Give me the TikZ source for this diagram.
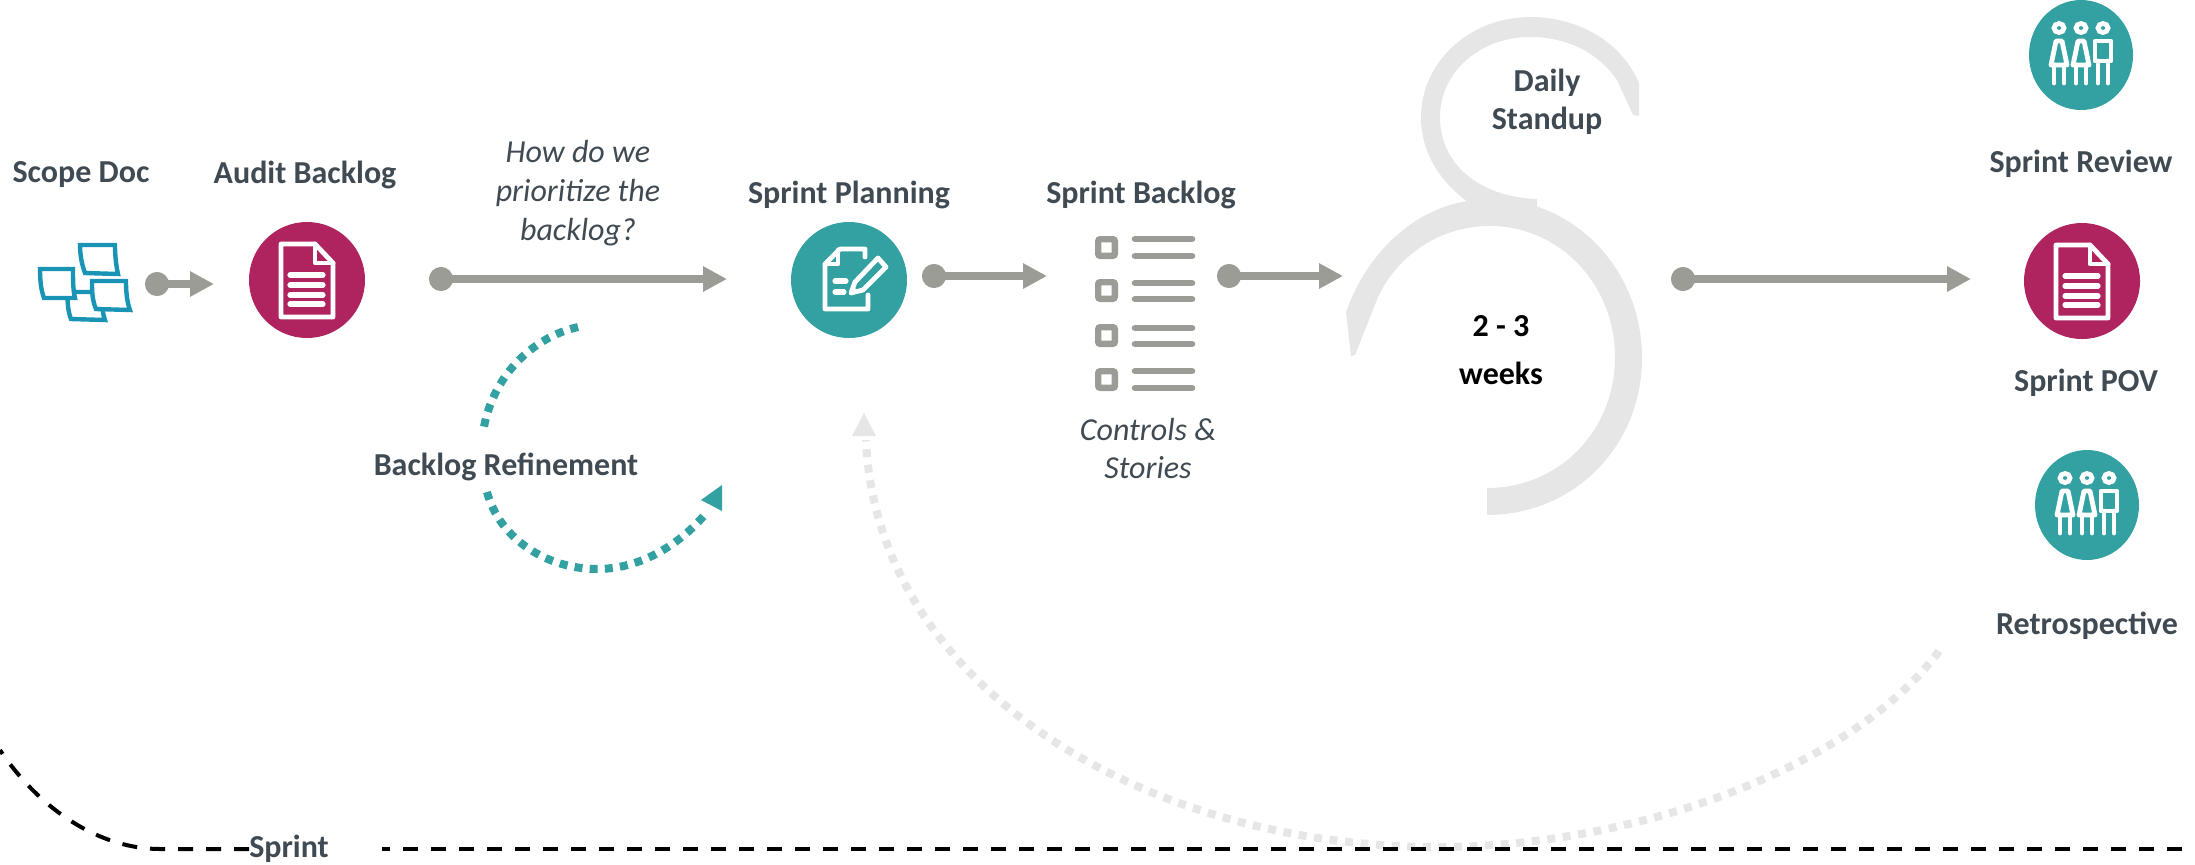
\documentclass[tikz,border=0pt]{standalone}
\usepackage{fontspec}
\setmainfont{Carlito}
\usetikzlibrary{arrows.meta,shapes.geometric}
\definecolor{teal1}{HTML}{33A1A1}
\definecolor{plum}{HTML}{AF245F}
\definecolor{flowgray}{HTML}{9C9C96}
\definecolor{pale}{HTML}{E6E6E6}
\definecolor{ink}{HTML}{3F4A52}
\definecolor{sticky}{HTML}{1A94B5}
\tikzset{
  lbl/.style={font=\fontsize{16}{17}\selectfont\bfseries,text=ink,inner sep=0pt,align=center},
  note/.style={font=\fontsize{16}{19}\selectfont\itshape,text=ink,inner sep=0pt,align=center},
  blk/.style={font=\fontsize{16}{17}\selectfont\bfseries,text=black,inner sep=0pt,align=center},
  flow/.style={draw=flowgray,line width=3.8pt,{Circle[length=12pt,width=12pt]}-{Triangle[length=12pt,width=12pt]}},
  tealdots/.style={draw=teal1,line width=4pt,dash pattern=on 4pt off 3.6pt},
  paledots/.style={draw=pale,line width=4pt,dash pattern=on 4pt off 3.8pt},
  blackdash/.style={draw=black,line width=2pt,dash pattern=on 7.5pt off 6.5pt},
  disc/.style={fill=#1,draw=none,inner sep=0pt},
  wline/.style={draw=white,line width=2.4pt,line join=round,line cap=round},
  wthin/.style={draw=white,line width=2.6pt,line cap=round},
  stickybox/.style={draw=sticky,line width=2.2pt,fill=white,line join=miter},
  chk/.style={draw=flowgray,line width=3.3pt,line cap=round},
  docicon/.pic={
    \draw[wline] (-26,-36) -- (8,-36) -- (26,-17) -- (26,37) -- (-26,37) -- cycle;
    \draw[wline] (8,-36) -- (8,-17) -- (26,-17);
    \foreach \yy in {-5,5,15,24} \draw[wthin] (-17,\yy) -- (16,\yy);
  },
  peopleicon/.pic={
    \foreach \xx in {-22,0,22} \draw[white,line width=2.4pt] (\xx,-27) ellipse (5 and 4.5);
    \foreach \xx in {-22,0} {
      \draw[wline] (\xx-3,-14) -- (\xx+3,-14) -- (\xx+8,10) -- (\xx-8,10) -- cycle;
      \draw[wline] (\xx-5,10) -- (\xx-5,28);
      \draw[wline] (\xx+5,10) -- (\xx+5,28);
    }
    \draw[wline] (14,-14) rectangle (30,6);
    \draw[wline] (17,6) -- (17,28);
    \draw[wline] (27,6) -- (27,28);
  }
}
\begin{document}
\begin{tikzpicture}[x=0.5pt,y=-0.5pt]
\useasboundingbox (0,0) rectangle (2195,864);

% sticky notes
\draw[stickybox] (80,245) -- (115,245) .. controls (115,255) and (116,265) .. (118,274) -- (85,273) .. controls (82,265) and (80,255) .. (80,245) -- cycle;
\draw[stickybox] (68,292) -- (102,292) .. controls (102,302) and (102,312) .. (105,320) -- (71,319) .. controls (68,312) and (67,300) .. (68,292) -- cycle;
\draw[stickybox] (40,269) -- (73,269) .. controls (73,280) and (73,290) .. (75,298) -- (44,298) .. controls (41,290) and (40,280) .. (40,269) -- cycle;
\draw[stickybox] (92,281) -- (126,281) .. controls (126,292) and (127,302) .. (130,310) -- (96,309) .. controls (92,300) and (92,290) .. (92,281) -- cycle;

% nodes: discs
\node[disc=plum,circle,minimum size=58pt] (audit) at (307,280) {};
\pic at (audit.center) {docicon};
\node[disc=teal1,circle,minimum size=58pt] (planning) at (849,280) {};
\node[disc=teal1,ellipse,minimum width=52pt,minimum height=55pt] (review) at (2081,55) {};
\pic at (review.center) {peopleicon};
\node[disc=plum,circle,minimum size=58pt] (pov) at (2082,281) {};
\pic at (pov.center) {docicon};
\node[disc=teal1,ellipse,minimum width=52pt,minimum height=55pt] (retro) at (2087,505) {};
\pic at (retro.center) {peopleicon};

% planning icon
\begin{scope}[shift={(849,280)}]
  \draw[wline] (16,-23) -- (16,-31) -- (-9,-31) -- (-24,-16) -- (-24,29) -- (19,29) -- (19,15);
  \draw[wline] (-11,-30) -- (-11,-16) -- (-24,-16);
  \draw[wthin] (-14,1) -- (-3,1);
  \draw[wthin] (-14,12) -- (-5,12);
  \draw[wline] (2,13) -- (6,2) -- (29,-22) -- (37,-13) -- (14,10) -- cycle;
  \fill[white] (2,13) -- (4,6) -- (9,11) -- cycle;
\end{scope}

% checklist
\foreach \yy/\la/\lb in {236/239/256,279/283/299,324/328/344,368/371/388}{
  \draw[flowgray,line width=3.2pt,rounded corners=1pt,fill=white] (1098.2,\yy+3.2) rectangle (1114.8,\yy+19.8);
  \draw[chk] (1135,\la) -- (1192,\la);
  \draw[chk] (1135,\lb) -- (1192,\lb);
}

% text
\node[lbl] (scope) at (81,175) {Scope Doc};
\node[lbl] (auditl) at (305,175) {Audit Backlog};
\node[note] (howdo) at (578,193) {How do we\\[0.5pt]prioritize the\\[0.5pt]backlog?};
\node[lbl] (planl) at (849,195) {Sprint Planning};
\node[lbl] (backl) at (1141,195) {Sprint Backlog};
\node[note] (ctrl) at (1148,448) {Controls \&\\Stories};
\node[lbl] (refine) at (506,467) {Backlog Refinement};
\node[lbl] (reviewl) at (2081,164) {Sprint Review};
\node[lbl] (povl) at (2086,383) {Sprint POV};
\node[lbl] (retrol) at (2087,626) {Retrospective};
\node[lbl] (sprint) at (289,849) {Sprint};

% flows
\coordinate (f1a) at (145,284); \coordinate (f1b) at (214,284);
\coordinate (f2a) at (429,279); \coordinate (f2b) at (727,279);
\coordinate (f3a) at (922,276); \coordinate (f3b) at (1047,276);
\coordinate (f4a) at (1217,276); \coordinate (f4b) at (1343,276);
\coordinate (f5a) at (1671,279); \coordinate (f5b) at (1971,279);
\draw[flow] (f1a) -- (f1b);
\draw[flow] (f2a) -- (f2b);
\draw[flow] (f3a) -- (f3b);
\draw[flow] (f4a) -- (f4b);
\draw[flow] (f5a) -- (f5b);

% loop shapes
\fill[pale] (1639,83) .. controls (1622,43) and (1580,17) .. (1530,17)
  .. controls (1470,17) and (1421,62) .. (1421,117)
  .. controls (1421,155) and (1442,183) .. (1468,202) -- (1537,207) -- (1537,199)
  .. controls (1480,197) and (1440,165) .. (1440,117)
  .. controls (1440,72) and (1480,37) .. (1530,37)
  .. controls (1570,37) and (1600,55) .. (1617,80)
  -- (1633,115) -- (1639,116) -- cycle;
\fill[pale] (1346,312) .. controls (1370,245) and (1425,199) .. (1490,199)
  .. controls (1575,199) and (1642,270) .. (1642,358)
  .. controls (1642,445) and (1575,515) .. (1487,515)
  -- (1487,488)
  .. controls (1560,488) and (1615,430) .. (1615,357)
  .. controls (1615,285) and (1560,226) .. (1490,226)
  .. controls (1440,226) and (1398,255) .. (1378,297)
  -- (1355,355) -- (1351,356) -- cycle;
\node[lbl] (daily) at (1547,102) {Daily\\[2pt]Standup};
\node[blk] (weeks) at (1501,350) {2 - 3\\[7pt]weeks};

% refinement arcs
\coordinate (r1a) at (578,327); \coordinate (r1b) at (484,427);
\coordinate (r2a) at (487,492); \coordinate (r2b) at (707,512);
\draw[tealdots] (r1a) .. controls (530,338) and (493,378) .. (r1b);
\draw[tealdots] (r2a) .. controls (500,540) and (548,569) .. (597,569) .. controls (640,569) and (680,545) .. (r2b);
\fill[teal1] (701,500) -- (722,485) -- (722,511) -- cycle;

% return arc
\coordinate (ra) at (1939,651); \coordinate (rm) at (1438,847); \coordinate (rb) at (866,440);
\draw[paledots] (ra) .. controls (1855,765) and (1640,847) .. (rm) .. controls (1140,847) and (876,683) .. (rb);
\fill[pale] (864,413) -- (876,436) -- (852,436) -- cycle;

% bottom dashed
\coordinate (d0) at (0,750); \coordinate (d1) at (160,849); \coordinate (d2) at (249,849);
\coordinate (d3) at (382,849); \coordinate (d4) at (2195,849);
\draw[blackdash] (d2) -- (d1) .. controls (100,849) and (40,810) .. (d0);
\draw[blackdash,dash phase=3.5pt] (d3) -- (d4);
\end{tikzpicture}
\end{document}
